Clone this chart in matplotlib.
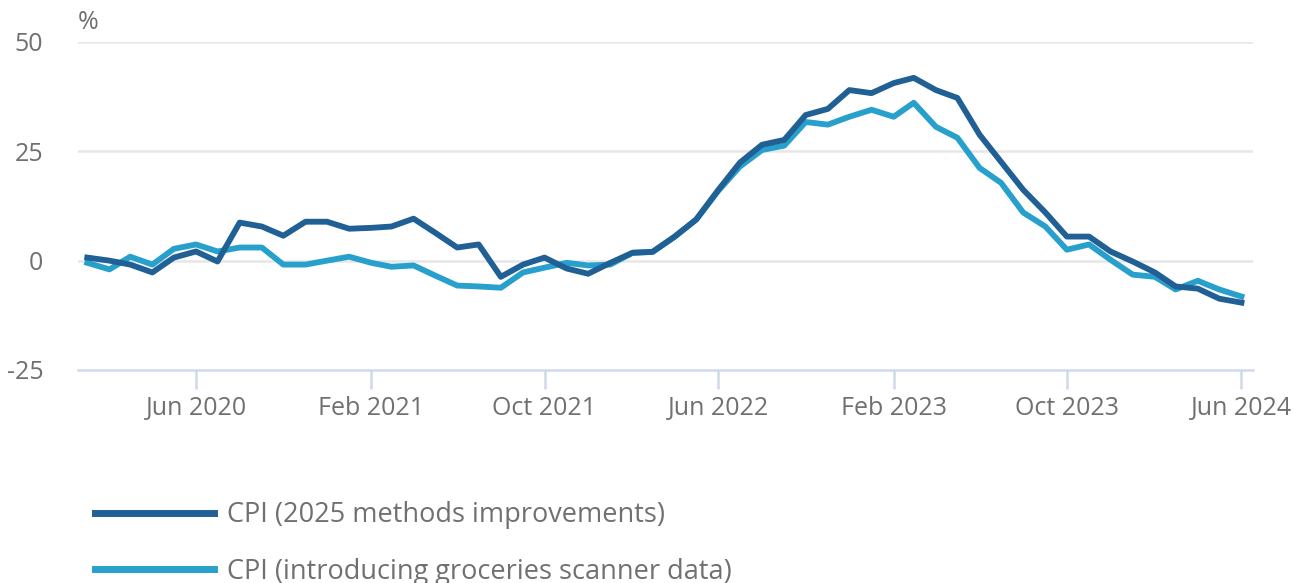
import matplotlib.pyplot as plt
import matplotlib.dates as mdates
import pandas as pd

plt.rcParams['font.family'] = ['Open Sans', 'DejaVu Sans']

months = pd.date_range('2020-01-01', '2024-06-01', freq='MS')

cpi_2025 = [0.7, 0.0, -0.9, -2.7, 0.7, 2.1, -0.2, 8.7, 7.8, 5.7, 8.9, 8.9,
            7.3, 7.5, 7.8, 9.6, 6.4, 3.0, 3.7, -3.7, -0.9, 0.7, -1.8, -3.0,
            -0.5, 1.8, 2.0, 5.5, 9.4, 16.2, 22.4, 26.5, 27.6, 33.3, 34.7, 39.0,
            38.3, 40.6, 41.8, 39.0, 37.2, 28.8, 22.6, 16.2, 11.0, 5.5, 5.5, 2.1,
            -0.2, -2.7, -5.9, -6.4, -8.7, -9.6]
cpi_scanner = [-0.5, -2.0, 0.9, -0.9, 2.7, 3.7, 2.1, 3.0, 3.0, -0.9, -0.9, 0.0,
               0.9, -0.5, -1.4, -1.1, -3.4, -5.7, -5.9, -6.2, -2.7, -1.6, -0.5, -1.1,
               -0.9, 1.8, 2.0, 5.5, 9.4, 16.0, 21.5, 25.3, 26.3, 31.7, 31.1, 32.9,
               34.5, 32.9, 36.1, 30.6, 28.1, 21.2, 17.8, 11.0, 7.8, 2.5, 3.7, 0.2,
               -3.2, -3.7, -6.6, -4.6, -6.6, -8.2]

tick_dates = pd.date_range('2020-06-01', '2024-06-01', freq='8MS')
y_ticks = [-25, 0, 25, 50]

dark = '#206095'
light = '#27a0cc'
grey = '#707071'

fig = plt.figure(figsize=(12.93, 5.83), dpi=100)
ax = fig.add_axes([0.0603, 0.3654, 0.9087, 0.5626])

ax.plot(months, cpi_2025, color=dark, lw=4.2, label='CPI (2025 methods improvements)', zorder=3)
ax.plot(months, cpi_scanner, color=light, lw=4.2, label='CPI (introducing groceries scanner data)', zorder=2)

ax.set_ylim(-25, 50)
ax.set_xlim(pd.Timestamp('2019-12-19'), pd.Timestamp('2024-06-17'))
ax.set_yticks(y_ticks)
ax.set_yticklabels([str(v) for v in y_ticks])
ax.set_xticks(tick_dates)
ax.xaxis.set_major_formatter(mdates.DateFormatter('%b %Y'))

for v in y_ticks[1:]:
    ax.axhline(v, color='#e6e6e6', lw=1.8, zorder=1)

for s in ['top', 'right', 'left']:
    ax.spines[s].set_visible(False)
ax.spines['bottom'].set_color('#cfd9ea')
ax.spines['bottom'].set_linewidth(1.8)

ax.tick_params(axis='y', length=0, pad=25, labelsize=18, labelcolor=grey)
ax.tick_params(axis='x', length=14, width=1.8, color='#cfd9ea', pad=5,
               labelsize=18, labelcolor=grey)

ax.text(0.0, 1.02, '%', transform=ax.transAxes, fontsize=18, color=grey,
        ha='left', va='bottom')

leg = fig.legend(loc='upper left', bbox_to_anchor=(0.0735, 0.14), frameon=False,
                 fontsize=19.5, handlelength=4.4, handletextpad=0.48, labelspacing=1.05,
                 borderpad=0, borderaxespad=0)
for t in leg.get_texts():
    t.set_color(grey)
for h in leg.get_lines():
    h.set_linewidth(5)

fig.savefig('out.png', dpi=100)
